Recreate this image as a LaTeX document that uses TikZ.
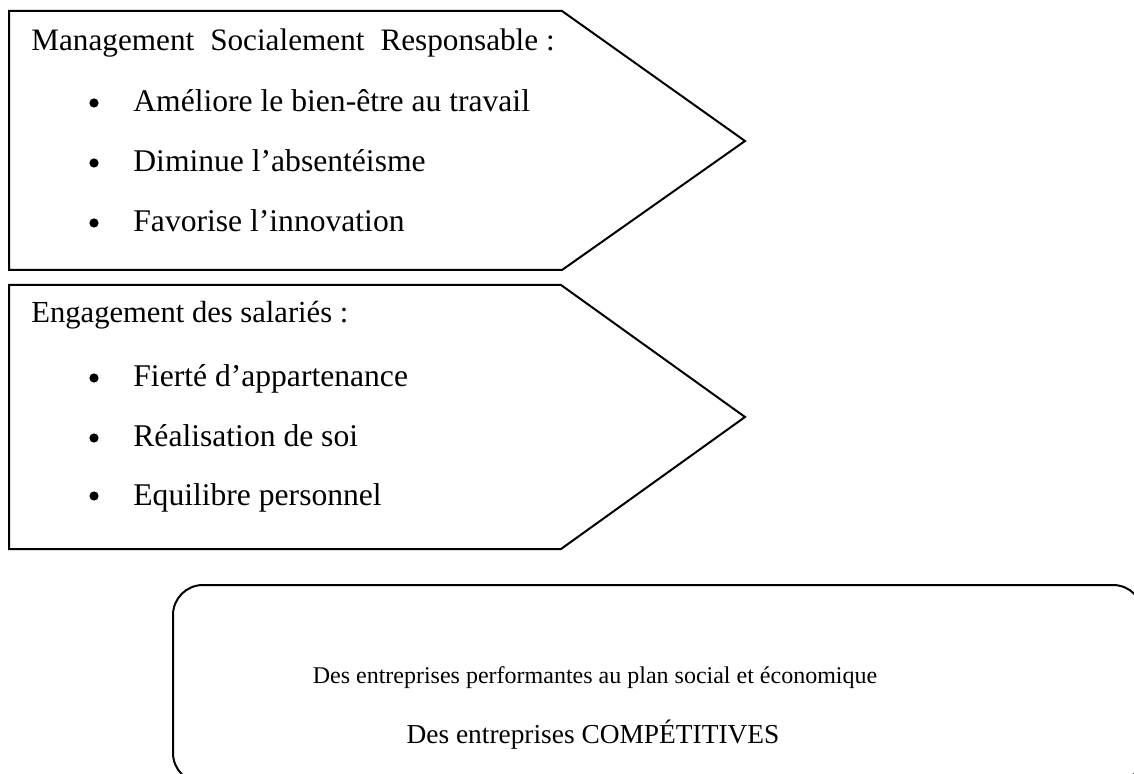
\documentclass[tikz,border=0pt]{standalone}
\usepackage{fontspec}
\setmainfont{Liberation Serif}
\begin{document}
\begin{tikzpicture}[x=0.5pt,y=-0.5pt,
  frame/.style={draw=black,line width=1pt,line join=miter},
  head/.style={anchor=base west,inner sep=0pt,font=\fontsize{15.3}{18}\selectfont},
  title/.style={anchor=base west,inner sep=0pt,font=\fontsize{15.6}{18}\selectfont},
  item/.style={anchor=base west,inner sep=0pt,font=\fontsize{15.8}{18}\selectfont},
  dot/.style={fill=black,circle,inner sep=0pt,minimum size=4.6pt},
  small/.style={anchor=base,inner sep=0pt,font=\fontsize{12}{14}\selectfont},
  big/.style={anchor=base,inner sep=0pt,font=\fontsize{13.7}{16}\selectfont}]
\clip (0,0) rectangle (1134,774);
\fill[white] (0,0) rectangle (1134,774);

% first arrow block
\draw[frame] (9,11) -- (562,11) -- (745,141) -- (562,270) -- (9,270) -- cycle;
\node[title] (msr) at (31,51)
  {Management\hspace{8pt}Socialement\hspace{8pt}Responsable :};
\foreach \y/\t [count=\i] in {112/Améliore le bien-être au travail,
                              172/Diminue l’absentéisme,
                              232/Favorise l’innovation}{
  \node[dot] (b1\i) at (94,\y-9) {};
  \node[item] (a\i) at (133,\y) {\t};
}

% second arrow block
\draw[frame] (9,285) -- (561,285) -- (745,417) -- (561,549) -- (9,549) -- cycle;
\node[head] (eng) at (31,323) {Engagement des salariés :};
\foreach \y/\t [count=\i] in {387/Fierté d’appartenance,
                              447/Réalisation de soi,
                              505/Equilibre personnel}{
  \node[dot] (b2\i) at (94,\y-9) {};
  \node[item] (e\i) at (133,\y) {\t};
}

% result box
\draw[frame,rounded corners=15pt] (173,585) rectangle (1143,783);
\node[small] (perf) at (595,683) {Des entreprises performantes au plan social et économique};
\node[big] (comp) at (593,743) {Des entreprises COMPÉTITIVES};
\end{tikzpicture}
\end{document}
